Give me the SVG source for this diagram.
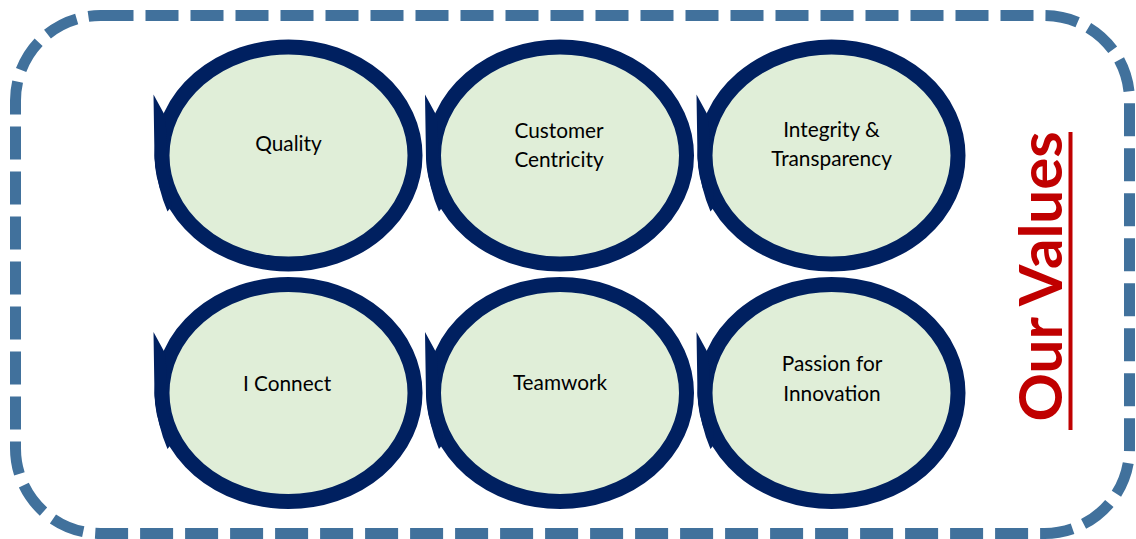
<svg xmlns="http://www.w3.org/2000/svg" xmlns:xlink="http://www.w3.org/1999/xlink" width="1136" height="539" viewBox="0 0 1136 539">
  <style>
    .frame { fill: none; stroke: #41719C; stroke-width: 11; stroke-dasharray: 33 12; }
    .ring { fill: #E0EED8; stroke: #002060; stroke-width: 15; }
    .tip { fill: #002060; }
    .label { font-family: Lato, "Open Sans", "Liberation Sans", sans-serif; font-size: 20.8px; fill: #000000; text-anchor: middle; }
    .title { font-family: Lato, "Liberation Sans", sans-serif; font-weight: bold; font-size: 60px; fill: #C00000; text-anchor: middle; }
  </style>
  <defs>
    <!-- value badge: thick oval ring with a pointed tail on the left -->
    <g id="badge">
      <ellipse class="ring" cx="0" cy="0" rx="126.5" ry="108.5"/>
      <path class="tip" d="M-135,-61 L-123,-39 L-121,3 L-117,51 L-121,56 Q-131,33 -134,3 Z"/>
    </g>
  </defs>

  <!-- dashed outer frame -->
  <rect class="frame" x="15.5" y="15.5" width="1114" height="518" rx="85" ry="85"/>

  <g id="connectors"/>

  <g id="node-quality">
    <use xlink:href="#badge" x="288.5" y="155.5"/>
    <text class="label" x="288.5" y="151">Quality</text>
  </g>
  <g id="node-customer-centricity">
    <use xlink:href="#badge" x="560" y="155.5"/>
    <text class="label" x="559" y="138">Customer</text>
    <text class="label" x="559" y="167">Centricity</text>
  </g>
  <g id="node-integrity-transparency">
    <use xlink:href="#badge" x="831.5" y="155.5"/>
    <text class="label" x="831.5" y="137">Integrity &amp;</text>
    <text class="label" x="831.5" y="166">Transparency</text>
  </g>
  <g id="node-i-connect">
    <use xlink:href="#badge" x="288.5" y="393"/>
    <text class="label" x="287" y="391">I Connect</text>
  </g>
  <g id="node-teamwork">
    <use xlink:href="#badge" x="560" y="393"/>
    <text class="label" x="560" y="390">Teamwork</text>
  </g>
  <g id="node-passion-innovation">
    <use xlink:href="#badge" x="831.5" y="393"/>
    <text class="label" x="832" y="371">Passion for</text>
    <text class="label" x="832" y="401">Innovation</text>
  </g>

  <!-- vertical heading with underline -->
  <g id="heading">
    <text class="title" transform="translate(1062,276.5) rotate(-90)" x="0" y="0">Our Values</text>
    <rect x="1068.5" y="132" width="4" height="298" fill="#C00000"/>
  </g>
</svg>
